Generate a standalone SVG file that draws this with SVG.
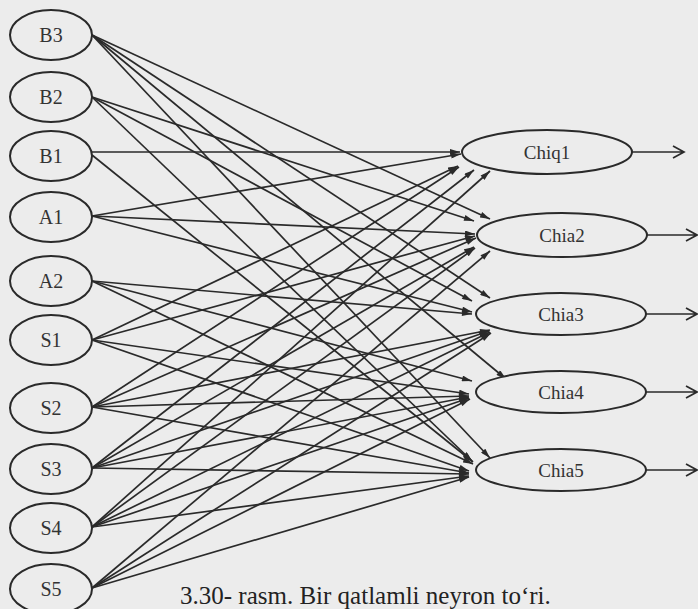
<svg xmlns="http://www.w3.org/2000/svg" width="698" height="609" viewBox="0 0 698 609">
<defs>
<marker id="ah" viewBox="0 0 10 6" refX="10" refY="3" markerWidth="11" markerHeight="6" orient="auto" markerUnits="userSpaceOnUse"><path d="M0,0 L10,3 L0,6 z" fill="#2a2a2a"/></marker>
</defs>
<style>
.n{fill:#ececec;stroke:#2a2a2a;stroke-width:2}
.t{font-family:"Liberation Serif",serif;font-size:20px;fill:#333;text-anchor:middle}
.to{font-family:"Liberation Serif",serif;font-size:19px;fill:#333;text-anchor:middle}
.c line{stroke:#2a2a2a;stroke-width:1.7;marker-end:url(#ah)}
.o{stroke:#2a2a2a;stroke-width:1.7;fill:none}
.cap{font-family:"Liberation Serif",serif;font-size:25px;fill:#222}
</style>
<rect x="0" y="0" width="698" height="609" fill="#ececec"/>
<g class="c" id="connectors">
<line x1="92" y1="35" x2="490" y2="219"/>
<line x1="92" y1="35" x2="490" y2="298"/>
<line x1="92" y1="35" x2="506" y2="379"/>
<line x1="92" y1="35" x2="490" y2="458"/>
<line x1="92" y1="97" x2="474" y2="221"/>
<line x1="92" y1="97" x2="472" y2="301"/>
<line x1="92" y1="97" x2="472" y2="461"/>
<line x1="92" y1="152" x2="460" y2="152"/>
<line x1="92" y1="155" x2="473" y2="462"/>
<line x1="92" y1="216" x2="461" y2="154"/>
<line x1="92" y1="216" x2="475" y2="234"/>
<line x1="92" y1="216" x2="472" y2="312"/>
<line x1="92" y1="281" x2="472" y2="314"/>
<line x1="92" y1="281" x2="472" y2="381"/>
<line x1="92" y1="281" x2="473" y2="464"/>
<line x1="92" y1="340" x2="458" y2="166"/>
<line x1="92" y1="340" x2="475" y2="236"/>
<line x1="92" y1="340" x2="469" y2="394"/>
<line x1="92" y1="340" x2="469" y2="471"/>
<line x1="92" y1="407" x2="459" y2="167"/>
<line x1="92" y1="407" x2="476" y2="238"/>
<line x1="92" y1="407" x2="490" y2="330"/>
<line x1="92" y1="407" x2="469" y2="396"/>
<line x1="92" y1="407" x2="469" y2="473"/>
<line x1="92" y1="468" x2="474" y2="170"/>
<line x1="92" y1="468" x2="474" y2="247"/>
<line x1="92" y1="468" x2="489" y2="331"/>
<line x1="92" y1="468" x2="469" y2="397"/>
<line x1="92" y1="468" x2="469" y2="474"/>
<line x1="92" y1="527" x2="490" y2="171"/>
<line x1="92" y1="527" x2="475" y2="248"/>
<line x1="92" y1="527" x2="490" y2="332"/>
<line x1="92" y1="527" x2="469" y2="398"/>
<line x1="92" y1="527" x2="469" y2="476"/>
<line x1="92" y1="588" x2="490" y2="251"/>
<line x1="92" y1="588" x2="491" y2="333"/>
<line x1="92" y1="588" x2="470" y2="399"/>
<line x1="92" y1="588" x2="469" y2="477"/>
</g>
<g id="output-arrows">
<path class="o" d="M631,152 H684 M673,146 L684,152 L673,158"/>
<path class="o" d="M647,235 H697 M686,229 L697,235 L686,241"/>
<path class="o" d="M646,314 H697 M686,308 L697,314 L686,320"/>
<path class="o" d="M646,392 H697 M686,386 L697,392 L686,398"/>
<path class="o" d="M646,470 H697 M686,464 L697,470 L686,476"/>
</g>
<g id="B3"><ellipse class="n" cx="51" cy="35" rx="41" ry="25"/><text class="t" x="51" y="42">B3</text></g>
<g id="B2"><ellipse class="n" cx="51" cy="97" rx="41" ry="25"/><text class="t" x="51" y="104">B2</text></g>
<g id="B1"><ellipse class="n" cx="51" cy="156" rx="41" ry="25"/><text class="t" x="51" y="163">B1</text></g>
<g id="A1"><ellipse class="n" cx="51" cy="217" rx="41" ry="25"/><text class="t" x="51" y="224">A1</text></g>
<g id="A2"><ellipse class="n" cx="51" cy="281" rx="41" ry="25"/><text class="t" x="51" y="288">A2</text></g>
<g id="S1"><ellipse class="n" cx="51" cy="340" rx="41" ry="25"/><text class="t" x="51" y="347">S1</text></g>
<g id="S2"><ellipse class="n" cx="51" cy="408" rx="41" ry="25"/><text class="t" x="51" y="415">S2</text></g>
<g id="S3"><ellipse class="n" cx="51" cy="469" rx="41" ry="25"/><text class="t" x="51" y="476">S3</text></g>
<g id="S4"><ellipse class="n" cx="51" cy="528" rx="41" ry="25"/><text class="t" x="51" y="535">S4</text></g>
<g id="S5"><ellipse class="n" cx="51" cy="589" rx="41" ry="25"/><text class="t" x="51" y="596">S5</text></g>
<g id="Chiq1"><ellipse class="n" cx="547" cy="152" rx="85" ry="22"/><text class="to" x="547" y="159">Chiq1</text></g>
<g id="Chia2"><ellipse class="n" cx="562" cy="235" rx="85" ry="22"/><text class="to" x="562" y="242">Chia2</text></g>
<g id="Chia3"><ellipse class="n" cx="561" cy="314" rx="85" ry="21"/><text class="to" x="561" y="321">Chia3</text></g>
<g id="Chia4"><ellipse class="n" cx="561" cy="392" rx="85" ry="21"/><text class="to" x="561" y="399">Chia4</text></g>
<g id="Chia5"><ellipse class="n" cx="561" cy="470" rx="85" ry="21"/><text class="to" x="561" y="477">Chia5</text></g>
<text class="cap" x="180" y="604">3.30- rasm. Bir qatlamli neyron to‘ri.</text>
</svg>
